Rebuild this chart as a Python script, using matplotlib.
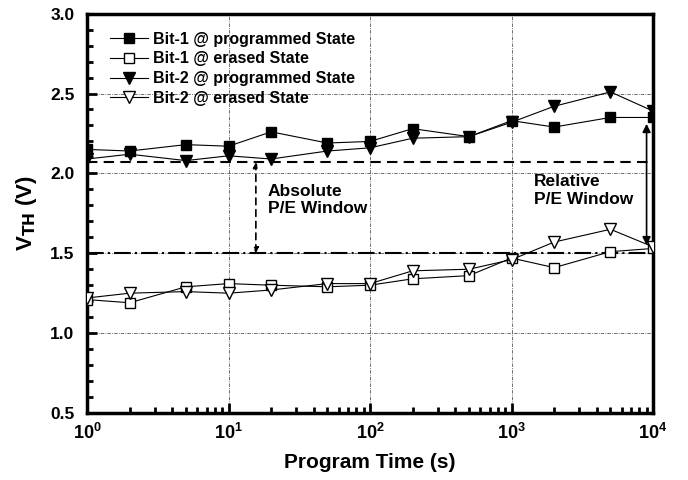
import matplotlib
matplotlib.use("Agg")
import matplotlib.pyplot as plt
from matplotlib.ticker import LogLocator, MultipleLocator

plt.rcParams['font.family'] = ['Liberation Sans', 'DejaVu Sans']
plt.rcParams['font.weight'] = 'bold'
plt.rcParams['mathtext.default'] = 'bf'

time_s = [1, 2, 5, 10, 20, 50, 100, 200, 500, 1000, 2000, 5000, 10000]
bit1_prog = [2.15, 2.14, 2.18, 2.17, 2.26, 2.19, 2.20, 2.28, 2.23, 2.33, 2.29, 2.35, 2.35]
bit1_erase = [1.21, 1.19, 1.29, 1.31, 1.30, 1.29, 1.30, 1.34, 1.36, 1.47, 1.41, 1.51, 1.53]
bit2_prog = [2.09, 2.12, 2.08, 2.11, 2.09, 2.14, 2.16, 2.22, 2.23, 2.32, 2.42, 2.51, 2.39]
bit2_erase = [1.22, 1.25, 1.26, 1.25, 1.27, 1.31, 1.31, 1.39, 1.40, 1.46, 1.57, 1.65, 1.54]
labels = ["Bit-1 @ programmed State", "Bit-1 @ erased State",
          "Bit-2 @ programmed State", "Bit-2 @ erased State"]
prog_level = 2.07
erase_level = 1.5

fig = plt.figure(figsize=(6.88, 4.8), dpi=100)
ax = fig.add_axes([0.1265, 0.1396, 0.8227, 0.832])

ms = 7
ax.plot(time_s, bit1_prog, '-s', color='black', lw=0.8, ms=ms, mfc='black', label=labels[0], zorder=3)
ax.plot(time_s, bit1_erase, '-s', color='black', lw=0.8, ms=ms, mfc='white', label=labels[1], zorder=3)
ax.plot(time_s, bit2_prog, '-v', color='black', lw=0.8, ms=ms + 1, mfc='black', label=labels[2], zorder=3)
ax.plot(time_s, bit2_erase, '-v', color='black', lw=0.8, ms=ms + 1, mfc='white', label=labels[3], zorder=3)

ax.set_xscale('log')
ax.set_xlim(1, 1e4)
ax.set_ylim(0.5, 3.0)

ax.axhline(prog_level, color='black', lw=1.5, ls=(0, (5, 3)), zorder=2)
ax.axhline(erase_level, color='black', lw=1.5, ls=(0, (8, 2, 1, 2)), zorder=2)

# grid
ax.grid(True, which='major', color='#555555', lw=0.6, ls=(0, (4, 1.5, 1, 1.5)))
ax.set_axisbelow(True)

# Absolute window arrow
xa = 15.6
ax.annotate('', xy=(xa, prog_level), xytext=(xa, erase_level),
            arrowprops=dict(arrowstyle='<|-|>', color='black', lw=1.2, ls=(0, (4, 3)),
                            mutation_scale=8, shrinkA=0, shrinkB=0))
ax.text(19.0, 1.935, "Absolute\nP/E Window", fontsize=12.5, fontweight='bold', va='top', ha='left',
        linespacing=1.2)

# Relative window arrow
xr = 9000
ax.annotate('', xy=(xr, 2.31), xytext=(xr, 1.55),
            arrowprops=dict(arrowstyle='<|-|>', color='black', lw=1.2,
                            mutation_scale=12, shrinkA=0, shrinkB=0))
ax.text(1440, 1.995, "Relative\nP/E Window", fontsize=12.5, fontweight='bold', va='top', ha='left',
        linespacing=1.2)

# ticks
ax.yaxis.set_major_locator(MultipleLocator(0.5))
ax.yaxis.set_minor_locator(MultipleLocator(0.1))
ax.xaxis.set_major_locator(LogLocator(base=10, numticks=10))
ax.xaxis.set_minor_locator(LogLocator(base=10, subs=range(2, 10), numticks=20))
ax.tick_params(which='both', direction='in', top=False, right=False, width=2)
ax.tick_params(which='major', length=7.5)
ax.tick_params(which='minor', length=4)
ax.tick_params(axis='y', which='major', labelsize=12.5, pad=9)
ax.tick_params(axis='x', which='major', labelsize=13, pad=7)
ax.set_yticklabels([f"{v:.1f}" for v in ax.get_yticks()])
for lab in ax.get_xticklabels() + ax.get_yticklabels():
    lab.set_fontweight('bold')

for sp in ax.spines.values():
    sp.set_linewidth(2.5)

ax.set_xlabel("Program Time (s)", fontsize=15, fontweight='bold', labelpad=7)
ax.set_ylabel(r"V$_{\mathbf{TH}}$ (V)", fontsize=16, fontweight='bold', labelpad=8)

leg = ax.legend(loc='upper left', bbox_to_anchor=(0.04, 0.955), frameon=False,
                handlelength=2.4, handletextpad=0.3, labelspacing=0.3,
                borderaxespad=0, borderpad=0,
                prop={'weight': 'bold', 'size': 11.5})

fig.savefig("out.png", dpi=100)
